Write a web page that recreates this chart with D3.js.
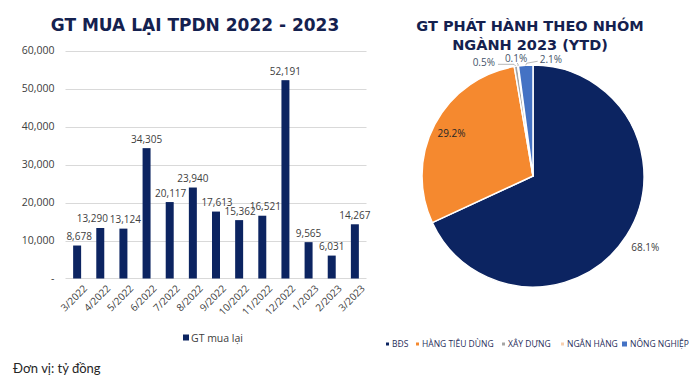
<!DOCTYPE html>
<html>
<head>
<meta charset="utf-8">
<script src="https://cdn.jsdelivr.net/npm/d3@7"></script>
<style>
  html, body { margin: 0; padding: 0; background: #ffffff; }
  svg { display: block; }
</style>
</head>
<body>
<svg id="chart" width="700" height="381"></svg>
<script>
// ---------- DATA ----------
const months = ["3/2022","4/2022","5/2022","6/2022","7/2022","8/2022","9/2022","10/2022","11/2022","12/2022","1/2023","2/2023","3/2023"];
const buyback = [8678, 13290, 13124, 34305, 20117, 23940, 17613, 15362, 16521, 52191, 9565, 6031, 14267];
const yTicks = [0, 10000, 20000, 30000, 40000, 50000, 60000];

const sectors = ["BĐS", "HÀNG TIÊU DÙNG", "XÂY DỰNG", "NGÂN HÀNG", "NÔNG NGHIỆP"];
const sectorShare = [68.1, 29.2, 0.5, 0.1, 2.1];
const sectorColors = ["#0c2461", "#f5892f", "#a5a5a5", "#f8cfae", "#4472c4"];

// label horizontal nudges (style only, px) to avoid collisions as in the original
const labelNudge = [2, -8, 2, 0, 1, 0, 1, 1, 3, 0, 0, 0, 0];

// ---------- SETUP ----------
const svg = d3.select("#chart");
const navy = "#0c2461";
const textGrey = "#404040";
const numFont = "Open Sans, Noto Sans, sans-serif";

// ---------- BAR CHART ----------
const bx0 = 65.5, bx1 = 366.5, by0 = 278.5, by1 = 50.5;
const x = d3.scaleBand().domain(months).range([bx0, bx1]).paddingInner(0.655).paddingOuter(0.33);
const y = d3.scaleLinear().domain([0, 60000]).range([by0, by1]);

svg.append("text")
  .attr("x", 195).attr("y", 31)
  .attr("text-anchor", "middle")
  .style("font-family", "DejaVu Sans, Verdana, sans-serif")
  .style("font-weight", "bold")
  .style("font-size", "17px")
  .style("fill", "#14214f")
  .text("GT MUA LẠI TPDN 2022 - 2023");

// gridlines
svg.append("g")
  .selectAll("line")
  .data(yTicks.filter(d => d > 0))
  .join("line")
  .attr("x1", bx0).attr("x2", bx1)
  .attr("y1", d => Math.round(y(d)) + 0.5).attr("y2", d => Math.round(y(d)) + 0.5)
  .attr("stroke", "#d9d9d9").attr("stroke-width", 1);

// y axis labels
const yAxis = d3.axisLeft(y).tickValues(yTicks).tickSize(0).tickPadding(11)
  .tickFormat(d => d === 0 ? "-" : d3.format(",")(d));
const gy = svg.append("g").attr("transform", `translate(${bx0},0)`).call(yAxis);
gy.select(".domain").remove();
gy.selectAll("text")
  .style("font-family", numFont)
  .style("font-size", "10.5px")
  .style("fill", textGrey);

// x axis
const xAxis = d3.axisBottom(x).tickSize(0).tickPadding(6);
const gx = svg.append("g").attr("transform", `translate(0,${by0})`).call(xAxis);
gx.select(".domain").attr("stroke", "#d9d9d9").attr("d", `M${bx0},0H${bx1}`);
gx.selectAll("text")
  .style("font-family", numFont)
  .style("font-size", "10px")
  .style("fill", textGrey)
  .attr("text-anchor", "end")
  .attr("dy", "0.35em")
  .attr("transform", "translate(4,4) rotate(-45)");

// bars
svg.append("g")
  .selectAll("rect")
  .data(buyback)
  .join("rect")
  .attr("x", (d, i) => x(months[i]))
  .attr("width", x.bandwidth())
  .attr("y", d => y(d))
  .attr("height", d => by0 - y(d))
  .attr("fill", navy);

// data labels
svg.append("g")
  .selectAll("text")
  .data(buyback)
  .join("text")
  .attr("x", (d, i) => x(months[i]) + x.bandwidth() / 2 + labelNudge[i])
  .attr("y", d => y(d) - 5.5)
  .attr("text-anchor", "middle")
  .style("font-family", numFont)
  .style("font-size", "10px")
  .style("fill", textGrey)
  .text(d => d3.format(",")(d));

// legend
const lg = svg.append("g").attr("transform", "translate(183,338)");
lg.append("rect").attr("x", 0).attr("y", -3.5).attr("width", 6).attr("height", 6).attr("fill", navy);
lg.append("text").attr("x", 8).attr("y", 0).attr("dy", "0.35em")
  .style("font-family", numFont)
  .style("font-size", "10.5px")
  .style("fill", textGrey)
  .text("GT mua lại");

svg.append("text")
  .attr("x", 13).attr("y", 373)
  .style("font-family", "Lato, sans-serif")
  .style("font-size", "13px")
  .style("fill", "#262626")
  .text("Đơn vị: tỷ đồng");

// ---------- PIE CHART ----------
const cx = 533, cy = 176, R = 111;
const titleLines = ["GT PHÁT HÀNH THEO NHÓM", "NGÀNH 2023 (YTD)"];
svg.append("g").selectAll("text")
  .data(titleLines)
  .join("text")
  .attr("x", 530)
  .attr("y", (d, i) => 31 + i * 19)
  .attr("text-anchor", "middle")
  .style("font-family", "DejaVu Sans, Verdana, sans-serif")
  .style("font-weight", "bold")
  .style("font-size", "14.5px")
  .style("fill", "#14214f")
  .text(d => d);

const pie = d3.pie().sort(null).value(d => d)(sectorShare);
const arc = d3.arc().innerRadius(0).outerRadius(R);
const pg = svg.append("g").attr("transform", `translate(${cx},${cy})`);
pg.selectAll("path")
  .data(pie)
  .join("path")
  .attr("d", arc)
  .attr("fill", (d, i) => sectorColors[i])
  .attr("stroke", "#ffffff")
  .attr("stroke-width", 1.5)
  .attr("stroke-linejoin", "round");

// labels: large slices
const outerArc = d3.arc().innerRadius(R * 1.2).outerRadius(R * 1.2);
const innerArc = d3.arc().innerRadius(R * 0.83).outerRadius(R * 0.83);
{
  const c = outerArc.centroid(pie[0]);
  pg.append("text").attr("x", c[0]).attr("y", c[1]).attr("dy", "0.35em")
    .attr("text-anchor", "middle")
    .style("font-family", numFont).style("font-size", "10px").style("fill", textGrey)
    .text(d3.format(".1f")(sectorShare[0]) + "%");
}
{
  const c = innerArc.centroid(pie[1]);
  pg.append("text").attr("x", c[0]).attr("y", c[1]).attr("dy", "0.35em")
    .attr("text-anchor", "middle")
    .style("font-family", numFont).style("font-size", "10px").style("fill", "#262626")
    .text(d3.format(".1f")(sectorShare[1]) + "%");
}
// small slices with leader lines
const edgeArc = d3.arc().innerRadius(R).outerRadius(R);
const smallLabelStyle = [
  null, null,
  { dx: -21, dy: -4, anchor: "end", lead: [[-2, -2], [-18, -2]] },
  { dx: -2, dy: -8, anchor: "middle", lead: [[0, -2], [-1, -3]] },
  { dx: 14, dy: -6, anchor: "start", lead: [[1, -2], [12, -4]] }
];
[2, 3, 4].forEach(i => {
  const p = edgeArc.centroid(pie[i]);
  const s = smallLabelStyle[i];
  const pts = [p].concat(s.lead.map(o => [p[0] + o[0], p[1] + o[1]]));
  pg.append("path")
    .attr("d", d3.line()(pts))
    .attr("fill", "none")
    .attr("stroke", "#a6a6a6")
    .attr("stroke-width", 0.8);
  pg.append("text")
    .attr("x", p[0] + s.dx).attr("y", p[1] + s.dy)
    .attr("text-anchor", s.anchor)
    .attr("dy", "0.35em")
    .style("font-family", numFont).style("font-size", "10px").style("fill", "#44546a")
    .text(d3.format(".1f")(sectorShare[i]) + "%");
});

// pie legend
const legendX = [386, 416, 502, 561, 622];
const legendSize = [3, 3, 3, 3, 5];
const pl = svg.append("g").attr("transform", "translate(0,344)");
sectors.forEach((s, i) => {
  const sz = legendSize[i];
  pl.append("rect").attr("x", legendX[i]).attr("y", -sz / 2).attr("width", sz).attr("height", sz)
    .attr("fill", sectorColors[i]);
  pl.append("text").attr("x", legendX[i] + sz + 3).attr("y", 0).attr("dy", "0.35em")
    .style("font-family", "Open Sans, sans-serif")
    .style("font-size", "8.5px")
    .style("fill", "#1f2d5a")
    .text(s);
});
</script>
</body>
</html>
